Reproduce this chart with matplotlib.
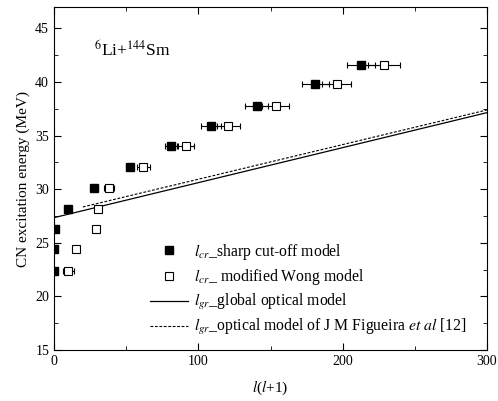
import numpy as np
import matplotlib
matplotlib.use('Agg')
import matplotlib.pyplot as plt
from matplotlib.ticker import MultipleLocator
from matplotlib.lines import Line2D

plt.rcParams['font.family'] = ['Liberation Serif', 'DejaVu Serif']
plt.rcParams['mathtext.fontset'] = 'stix'

# CN excitation energies (MeV)
energy = [22.4, 24.4, 26.3, 28.2, 30.1, 32.1, 34.0, 35.9, 37.8, 39.8, 41.6]

# sharp cut-off model: l(l+1) and error
sharp_x = [0, 0, 1, 9.7, 27.9, 52.4, 81.0, 108.8, 140.4, 181.0, 212.7]
sharp_err = [0, 0, 0, 0, 1.5, 2.5, 4.0, 7.0, 8.0, 9.5, 10.0]

# modified Wong model
wong_x = [9.9, 15.0, 28.9, 30.3, 38.3, 61.9, 91.5, 120.6, 153.6, 196.0, 228.7]
wong_err = [3.8, 0, 2.0, 2.0, 3.5, 4.5, 5.5, 8.0, 9.5, 10.0, 11.0]

# l_gr lines (end points)
global_x = [0, 300]
global_y = [27.35, 37.15]
figueira_x = [20, 300]
figueira_y = [28.35, 37.4]

fig = plt.figure(figsize=(4.98, 4.01), dpi=100)
ax = fig.add_axes([0.1084, 0.127, 0.8696, 0.8555])

ax.errorbar(sharp_x, energy, xerr=sharp_err, fmt='s', color='black', ms=5.5,
            capsize=2.5, elinewidth=0.8, capthick=0.8)
ax.errorbar(wong_x, energy, xerr=wong_err, fmt='s', color='black', mfc='white',
            ms=5.5, mew=0.8, capsize=2.5, elinewidth=0.8, capthick=0.8)
ax.plot(global_x, global_y, '-', color='black', lw=0.9)
ax.plot(figueira_x, figueira_y, color='black', lw=0.8, linestyle=(0, (2.5, 1.5)))

ax.set_xlim(0, 300)
ax.set_ylim(15, 47)
ax.xaxis.set_major_locator(MultipleLocator(100))
ax.xaxis.set_minor_locator(MultipleLocator(50))
ax.yaxis.set_major_locator(MultipleLocator(5))
ax.yaxis.set_minor_locator(MultipleLocator(2.5))
ax.tick_params(which='both', direction='in', top=True, right=True, labelsize=10)
ax.tick_params(which='major', length=5)
ax.tick_params(which='minor', length=3)

ax.set_xlabel(r'$l$($l$+1)', fontsize=11, labelpad=8)
ax.set_ylabel('CN excitation energy (MeV)', fontsize=11)

ax.text(0.092, 0.857, r'$^{6}$Li+$^{144}$Sm', transform=ax.transAxes, fontsize=12.5)

handles = [
    Line2D([], [], marker='s', ls='none', color='black', ms=5.5),
    Line2D([], [], marker='s', ls='none', color='black', mfc='white', ms=5.5, mew=0.8),
    Line2D([], [], ls='-', color='black', lw=0.9),
    Line2D([], [], ls=(0, (2.5, 1.5)), color='black', lw=0.8),
]
labels = [
    r'$l_{cr}$_sharp cut-off model',
    r'$l_{cr}$_ modified Wong model',
    r'$l_{gr}$_global optical model',
    r'$l_{gr}$_optical model of J M Figueira $et\ al$ [12]',
]
ax.legend(handles, labels, loc='lower left', frameon=False, fontsize=11.3,
          handlelength=2.4, handletextpad=0.4, labelspacing=0.33,
          borderpad=0, borderaxespad=0, bbox_to_anchor=(0.222, 0.037))

fig.savefig('out.png', dpi=100)
